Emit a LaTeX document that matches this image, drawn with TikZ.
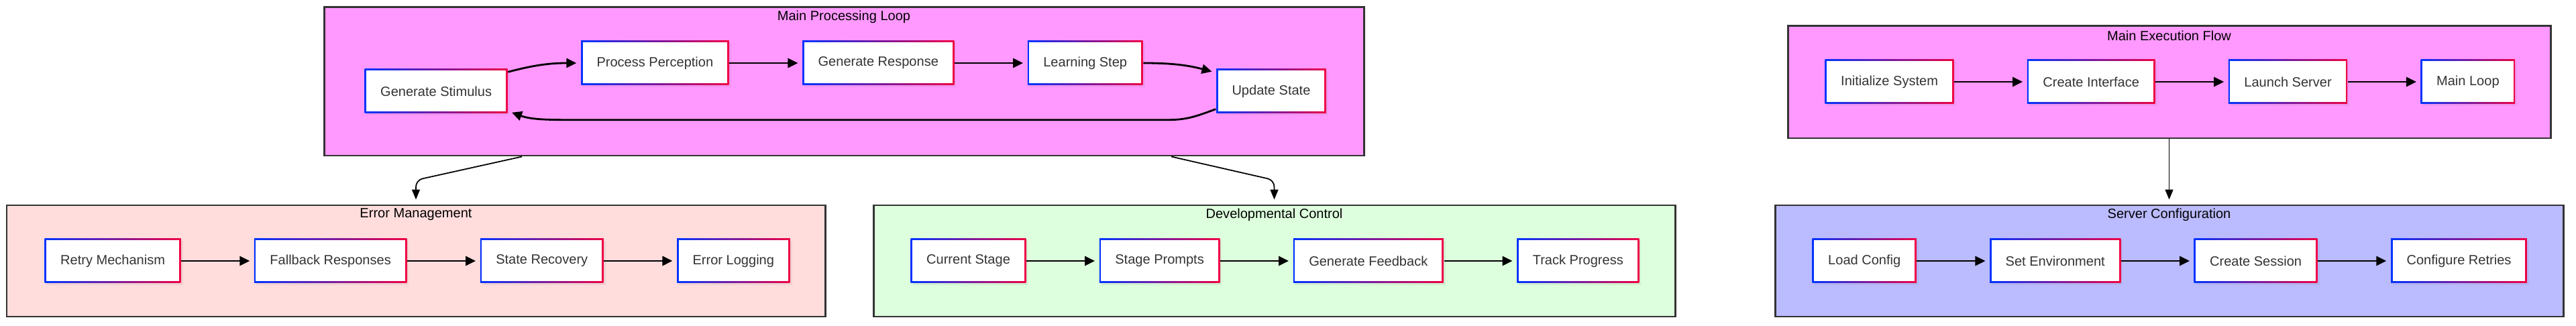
\documentclass[tikz,border=0pt]{standalone}
\usepackage{fontspec}
\setmainfont{Liberation Sans}
\usetikzlibrary{positioning,arrows.meta,shadows}
\definecolor{edgeblue}{HTML}{0033FF}
\definecolor{edgered}{HTML}{F00044}
\definecolor{labelgrey}{HTML}{333333}
\definecolor{framegrey}{HTML}{333333}
\definecolor{loopfill}{HTML}{FF99FF}
\definecolor{errfill}{HTML}{FFDDDD}
\definecolor{devfill}{HTML}{DDFFDD}
\definecolor{srvfill}{HTML}{BBBBFF}
\begin{document}
\begin{tikzpicture}[node distance=10.8mm, font=\fontsize{5.7}{6.8}\selectfont,
    proc/.style={rectangle, minimum height=6.6mm, inner xsep=2.35mm, fill=white, text=labelgrey,
      drop shadow={opacity=0.12, shadow xshift=0.3mm, shadow yshift=-0.3mm},
      path picture={
        \shade[left color=edgeblue, right color=edgered] (path picture bounding box.south west) rectangle (path picture bounding box.north east);
        \fill[white] ([shift={(0.25mm,0.25mm)}]path picture bounding box.south west) rectangle ([shift={(-0.25mm,-0.25mm)}]path picture bounding box.north east);}},
    cluster/.style={rectangle, draw=framegrey, line width=0.85pt, inner sep=0pt},
    ctitle/.style={text=black, inner sep=0pt},
    flow/.style={line width=0.8pt, -{Triangle[length=1.5mm,width=1.4mm]}, shorten >=0.6mm},
    link/.style={line width=0.5pt, -{Triangle[length=1.5mm,width=1.2mm]}, shorten >=0.7mm, rounded corners=1mm}]
  \useasboundingbox (0,0) rectangle (38.4,4.85);
  \node[cluster, fill=loopfill, minimum width=15.5cm, minimum height=2.21cm] (loopbox) at (12.58,3.635) {};
  \node[cluster, fill=errfill, minimum width=12.2cm, minimum height=1.66cm] (errbox) at (6.2,0.96) {};
  \node[cluster, fill=devfill, minimum width=11.95cm, minimum height=1.66cm] (devbox) at (18.995,0.96) {};
  \node[cluster, fill=loopfill, minimum width=11.37cm, minimum height=1.67cm] (execbox) at (32.335,3.625) {};
  \node[cluster, fill=srvfill, minimum width=11.75cm, minimum height=1.66cm] (srvbox) at (32.335,0.96) {};
  \node[ctitle] (looptitle) at ([yshift=-1.6mm]loopbox.north) {Main Processing Loop};
  \node[ctitle] (errtitle) at ([yshift=-1.55mm]errbox.north) {Error Management};
  \node[ctitle] (devtitle) at ([yshift=-1.55mm]devbox.north) {Developmental Control};
  \node[ctitle] (exectitle) at ([yshift=-1.55mm]execbox.north) {Main Execution Flow};
  \node[ctitle] (srvtitle) at ([yshift=-1.55mm]srvbox.north) {Server Configuration};

  \node[proc, anchor=west] (gs) at (5.43,3.49) {Generate Stimulus};
  \node[proc, right=of gs, yshift=4.2mm] (pp) {Process Perception};
  \node[proc, right=of pp] (gr) {Generate Response};
  \node[proc, right=of gr] (ls) {Learning Step};
  \node[proc, right=of ls, yshift=-4.2mm] (us) {Update State};

  \node[proc, anchor=west] (rm) at (0.66,0.96) {Retry Mechanism};
  \node[proc, right=of rm] (fr) {Fallback Responses};
  \node[proc, right=of fr] (sr) {State Recovery};
  \node[proc, right=of sr] (el) {Error Logging};

  \node[proc, anchor=west] (cs) at (13.57,0.96) {Current Stage};
  \node[proc, right=of cs] (sp) {Stage Prompts};
  \node[proc, right=of sp] (gf) {Generate Feedback};
  \node[proc, right=of gf] (tp) {Track Progress};

  \node[proc, anchor=west] (is) at (27.2,3.63) {Initialize System};
  \node[proc, right=of is] (ci) {Create Interface};
  \node[proc, right=of ci] (lsv) {Launch Server};
  \node[proc, right=of lsv] (ml) {Main Loop};

  \node[proc, anchor=west] (lc) at (27.01,0.96) {Load Config};
  \node[proc, right=of lc] (se) {Set Environment};
  \node[proc, right=of se] (cse) {Create Session};
  \node[proc, right=of cse] (cr) {Configure Retries};

  \draw[flow] ([yshift=-0.5mm]gs.north east) to[out=15, in=180] (pp);
  \draw[flow] (pp) -- (gr);
  \draw[flow] (gr) -- (ls);
  \draw[flow] (ls) to[out=0, in=165] ([yshift=-0.6mm]us.north west);
  \draw[flow] ([yshift=0.7mm]us.south west) to[out=200, in=0] ([xshift=-0.7cm, yshift=-0.9mm]us.south west)
    -- ([xshift=0.9cm, yshift=-0.9mm]gs.south east) to[out=180, in=-20] ([yshift=0.4mm]gs.south east);
  \draw[flow] (rm) -- (fr);
  \draw[flow] (fr) -- (sr);
  \draw[flow] (sr) -- (el);
  \draw[flow] (cs) -- (sp);
  \draw[flow] (sp) -- (gf);
  \draw[flow] (gf) -- (tp);
  \draw[flow] (is) -- (ci);
  \draw[flow] (ci) -- (lsv);
  \draw[flow] (lsv) -- (ml);
  \draw[flow] (lc) -- (se);
  \draw[flow] (se) -- (cse);
  \draw[flow] (cse) -- (cr);

  \draw[link] ([xshift=-4.8cm]loopbox.south) -- ([yshift=3.6mm]errbox.north) -- (errbox.north);
  \draw[link] ([xshift=4.88cm]loopbox.south) -- ([yshift=3.6mm]devbox.north) -- (devbox.north);
  \draw[link] (execbox.south) -- (srvbox.north);
\end{tikzpicture}
\end{document}
